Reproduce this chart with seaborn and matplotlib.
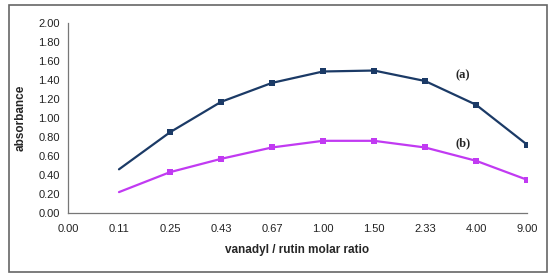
"""
Absorbance vs vanadyl / rutin molar ratio, two series (a) and (b).
"""
import matplotlib.pyplot as plt
import matplotlib.patches as mpatches
import numpy as np
import seaborn as sns
import pandas as pd

# category labels on the x axis (categorical, evenly spaced)
ratios = ['0.00', '0.11', '0.25', '0.43', '0.67', '1.00', '1.50', '2.33', '4.00', '9.00']
# measured values start at the second category
series_a = [0.46, 0.85, 1.17, 1.37, 1.49, 1.50, 1.39, 1.14, 0.72]
series_b = [0.22, 0.43, 0.57, 0.69, 0.76, 0.76, 0.69, 0.55, 0.35]

pos = np.arange(1, len(ratios))
df = pd.DataFrame({'pos': np.concatenate([pos, pos]),
                   'absorbance': series_a + series_b,
                   'series': ['a'] * len(series_a) + ['b'] * len(series_b)})

sns.set_style("white")
plt.rcParams['font.family'] = ['Liberation Sans', 'DejaVu Sans']

fig = plt.figure(figsize=(5.5, 2.78), dpi=100)
ax = fig.add_axes([0.1236, 0.2338, 0.8346, 0.6833])

colors = {'a': '#1B3A66', 'b': '#C13AF2'}
sns.lineplot(data=df, x='pos', y='absorbance', hue='series', palette=colors,
             marker='s', markersize=4.5, markeredgewidth=0, linewidth=1.6,
             markevery=list(range(1, len(pos))), legend=False, ax=ax)

ax.set_xlim(0, len(ratios) - 1)
ax.set_ylim(0, 2.0)
ax.set_xticks(range(len(ratios)))
ax.set_xticklabels(ratios)
ax.set_yticks(np.arange(0, 2.01, 0.2))
ax.set_yticklabels([f'{v:.2f}' for v in np.arange(0, 2.01, 0.2)])
ax.tick_params(axis='both', labelsize=8, colors='#222222')
ax.tick_params(axis='y', direction='out', length=3, width=0.8, color='#555555', pad=3)
ax.tick_params(axis='x', length=0, pad=8)

for s in ['top', 'right']:
    ax.spines[s].set_visible(False)
for s in ['left', 'bottom']:
    ax.spines[s].set_color('#777777')
    ax.spines[s].set_linewidth(0.9)

ax.set_xlabel('vanadyl / rutin molar ratio', fontsize=8.5, fontweight='bold', labelpad=7)
ax.set_ylabel('absorbance', fontsize=8.5, fontweight='bold', labelpad=8)

ax.text(7.6, 1.42, '(a)', fontsize=9, fontweight='bold', family='Liberation Serif')
ax.text(7.6, 0.70, '(b)', fontsize=9, fontweight='bold', family='Liberation Serif')

# frame around the whole chart
fig.patches.append(mpatches.Rectangle((0.016, 0.022), 0.978, 0.96, transform=fig.transFigure,
                                      fill=False, edgecolor='#666666', linewidth=1.2))

fig.savefig('out.png', dpi=100)
